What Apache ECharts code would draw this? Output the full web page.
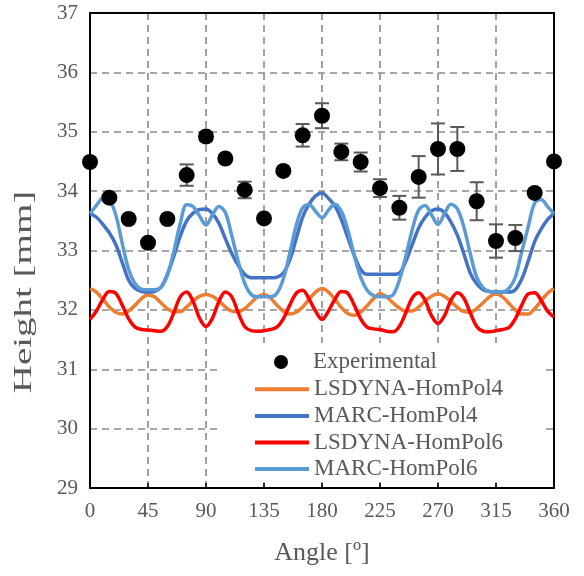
<!DOCTYPE html>
<html>
<head>
<meta charset="utf-8">
<script src="https://cdn.jsdelivr.net/npm/echarts@6/dist/echarts.min.js"></script>
<style>
html,body{margin:0;padding:0;background:#fff;font-family:"Liberation Serif",serif;}
#chart{width:584px;height:576px;}
</style>
</head>
<body>
<div id="chart"></div>
<script>
var seriesNames = ['Experimental','LSDYNA-HomPol4','MARC-HomPol4','LSDYNA-HomPol6','MARC-HomPol6'];
var xTicks = [0,45,90,135,180,225,270,315,360];
var yTicks = [29,30,31,32,33,34,35,36,37];

var expAngles = [0,15,30,45,60,75,90,105,120,135,150,165,180,195,210,225,240,255,270,285,300,315,330,345,360];
var expHeight = [34.49,33.89,33.53,33.13,33.53,34.27,34.92,34.55,34.02,33.54,34.34,34.94,35.27,34.66,34.49,34.05,33.72,34.24,34.71,34.71,33.83,33.16,33.21,33.97,34.50];
var expError  = [0,0,0,0,0,0.18,0.07,0,0.14,0,0,0.19,0.21,0.14,0.16,0.15,0.20,0.35,0.43,0.37,0.32,0.28,0.22,0,0];

var simAngles = [0,5,10,15,20,25,30,35,40,45,50,55,60,65,70,75,80,85,90,95,100,105,110,115,120,125,130,135,140,145,150,155,160,165,170,175,180,
  185,190,195,200,205,210,215,220,225,230,235,240,245,250,255,260,265,270,275,280,285,290,295,300,305,310,315,320,325,330,335,340,345,350,355,360];

var lsdynaPol4 = [32.36,32.30,32.18,32.05,31.96,31.93,31.98,32.08,32.19,32.25,32.22,32.12,32.02,31.97,31.97,32.05,32.15,32.23,32.26,32.23,32.15,32.05,31.98,31.97,32.02,32.12,32.22,32.26,32.20,32.08,31.98,31.93,31.96,32.05,32.18,32.30,32.36,
  32.30,32.18,32.04,31.94,31.91,31.96,32.07,32.19,32.27,32.22,32.12,32.03,31.98,31.98,32.05,32.15,32.23,32.27,32.23,32.14,32.04,31.97,31.96,32.02,32.12,32.22,32.27,32.22,32.11,32.00,31.93,31.93,32.02,32.15,32.28,32.36];

var marcPol4 = [33.62,33.56,33.44,33.30,33.10,32.80,32.50,32.36,32.31,32.30,32.31,32.38,32.60,32.90,33.24,33.50,33.63,33.69,33.70,33.62,33.46,33.20,32.95,32.75,32.60,32.54,32.54,32.54,32.54,32.55,32.62,32.84,33.20,33.56,33.78,33.92,33.97,
  33.88,33.75,33.52,33.22,32.92,32.68,32.60,32.60,32.60,32.60,32.60,32.62,32.82,33.10,33.38,33.56,33.67,33.70,33.64,33.48,33.26,32.95,32.62,32.44,32.34,32.31,32.30,32.30,32.30,32.34,32.52,32.82,33.15,33.36,33.52,33.62];

var lsdynaPol6 = [31.84,31.98,32.18,32.31,32.28,32.08,31.85,31.71,31.67,31.66,31.65,31.64,31.72,31.95,32.22,32.30,32.14,31.86,31.72,31.86,32.14,32.30,32.22,31.95,31.72,31.65,31.64,31.65,31.67,31.71,31.85,32.08,32.28,32.33,32.18,31.98,31.84,
  31.98,32.18,32.31,32.28,32.08,31.85,31.71,31.68,31.67,31.64,31.63,31.72,31.95,32.20,32.29,32.16,31.90,31.77,31.90,32.16,32.29,32.20,31.95,31.72,31.64,31.63,31.65,31.67,31.70,31.85,32.08,32.27,32.29,32.16,31.98,31.88];

var marcPol6 = [33.62,33.76,33.88,33.85,33.60,33.12,32.68,32.44,32.35,32.34,32.34,32.38,32.58,32.98,33.45,33.77,33.74,33.58,33.43,33.60,33.74,33.64,33.25,32.82,32.45,32.26,32.22,32.22,32.22,32.28,32.52,32.95,33.42,33.72,33.77,33.66,33.55,
  33.68,33.78,33.66,33.35,32.92,32.55,32.33,32.24,32.22,32.22,32.25,32.50,32.90,33.35,33.68,33.76,33.60,33.44,33.62,33.78,33.70,33.40,32.95,32.55,32.37,32.31,32.30,32.30,32.36,32.55,32.98,33.40,33.80,33.86,33.74,33.62];

var colors = {exp:'#000000', lsd4:'#ED7D31', marc4:'#4472C4', lsd6:'#FF0000', marc6:'#5B9BD5'};
var FONT = 'Liberation Serif';
var TXT = '#595959';

function pairs(xs, ys){ var out=[]; for(var i=0;i<xs.length;i++){ out.push([xs[i], ys[i]]); } return out; }
var errData = [];
for (var i=0;i<expAngles.length;i++){ if (expError[i]>0) errData.push([expAngles[i], expHeight[i], expError[i]]); }

function lineSeries(name, data, color, z){
  return {name:name, type:'line', data:pairs(simAngles, data), smooth:0.35, symbol:'none', showSymbol:false,
    lineStyle:{color:color, width:3.5}, itemStyle:{color:color}, z:z, animation:false};
}

var chart = echarts.init(document.getElementById('chart'), null, {renderer:'canvas'});
chart.setOption({
  animation:false,
  backgroundColor:'#ffffff',
  textStyle:{fontFamily:FONT, color:TXT},
  grid:{left:90, right:30, top:13, bottom:88, show:false, outerBoundsMode:'none', containLabel:false},
  xAxis:[{type:'value', min:xTicks[0], max:xTicks[xTicks.length-1], interval:45,
    name:'Angle [º]', nameLocation:'middle', nameGap:52,
    nameTextStyle:{fontFamily:FONT, fontSize:26, color:TXT},
    axisLine:{show:true, onZero:false, lineStyle:{color:'#000', width:2}},
    axisTick:{show:true, inside:true, length:5, lineStyle:{color:'#000', width:1.5}},
    axisLabel:{fontFamily:FONT, fontSize:21, color:TXT, margin:13},
    splitLine:{show:true, lineStyle:{color:'#8a8a8a', width:1.6, type:[7,5]}}},
    {type:'value', position:'top', min:xTicks[0], max:xTicks[xTicks.length-1], interval:45,
    axisLine:{show:true, onZero:false, lineStyle:{color:'#000', width:2}},
    axisTick:{show:false}, axisLabel:{show:false}, splitLine:{show:false}}],
  yAxis:[{type:'value', min:yTicks[0], max:yTicks[yTicks.length-1], interval:1,
    axisLine:{show:true, onZero:false, lineStyle:{color:'#000', width:2}},
    axisTick:{show:false},
    axisLabel:{fontFamily:FONT, fontSize:21, color:TXT, margin:12},
    splitLine:{show:true, lineStyle:{color:'#8a8a8a', width:1.6, type:[7,5]}}},
    {type:'value', position:'right', min:yTicks[0], max:yTicks[yTicks.length-1], interval:1,
    axisLine:{show:true, onZero:false, lineStyle:{color:'#000', width:2}},
    axisTick:{show:false}, axisLabel:{show:false}, splitLine:{show:false}}],
  graphic:[
    {type:'rect', z:3, shape:{x:217, y:343, width:324, height:139}, style:{fill:'#ffffff'}},
    {type:'text', z:5, x:24, y:292, rotation:Math.PI/2, scaleX:1.5,
      style:{text:'Height [mm]', font:'26px "Liberation Serif"', fill:TXT, align:'center', verticalAlign:'middle'}}
  ],
  legend:[
    {orient:'vertical', left:274, top:349, padding:0, itemWidth:14, itemHeight:14, itemGap:0, z:6,
      textStyle:{fontFamily:FONT, fontSize:23, color:TXT, lineHeight:26, padding:[0,0,0,20]},
      data:[{name:seriesNames[0], icon:'circle', itemStyle:{color:'#000', opacity:1}}]},
    {orient:'vertical', left:255, top:376, padding:0, itemWidth:54, itemHeight:4, itemGap:0, z:6,
      textStyle:{fontFamily:FONT, fontSize:23, color:TXT, lineHeight:26.6},
      data:[
        {name:seriesNames[1], icon:'rect', itemStyle:{color:colors.lsd4, borderWidth:0}},
        {name:seriesNames[2], icon:'rect', itemStyle:{color:colors.marc4, borderWidth:0}},
        {name:seriesNames[3], icon:'rect', itemStyle:{color:colors.lsd6, borderWidth:0}},
        {name:seriesNames[4], icon:'rect', itemStyle:{color:colors.marc6, borderWidth:0}}
      ]}
  ],
  series:[
    lineSeries(seriesNames[1], lsdynaPol4, colors.lsd4, 2),
    lineSeries(seriesNames[2], marcPol4, colors.marc4, 2),
    lineSeries(seriesNames[3], lsdynaPol6, colors.lsd6, 2),
    lineSeries(seriesNames[4], marcPol6, colors.marc6, 2),
    {name:'errbars', type:'custom', data:errData, z:4, silent:true,
      renderItem:function(params, api){
        var x=api.value(0), y=api.value(1), e=api.value(2);
        var t=api.coord([x, y+e]), b=api.coord([x, y-e]);
        var hw=7, st={stroke:'#595959', lineWidth:2};
        return {type:'group', children:[
          {type:'line', shape:{x1:t[0],y1:t[1],x2:b[0],y2:b[1]}, style:st},
          {type:'line', shape:{x1:t[0]-hw,y1:t[1],x2:t[0]+hw,y2:t[1]}, style:st},
          {type:'line', shape:{x1:b[0]-hw,y1:b[1],x2:b[0]+hw,y2:b[1]}, style:st}
        ]};
      }},
    {name:seriesNames[0], type:'scatter', data:pairs(expAngles, expHeight), symbol:'circle', symbolSize:16,
      itemStyle:{color:'#000', opacity:1}, z:5, clip:false}
  ]
});
</script>
</body>
</html>
